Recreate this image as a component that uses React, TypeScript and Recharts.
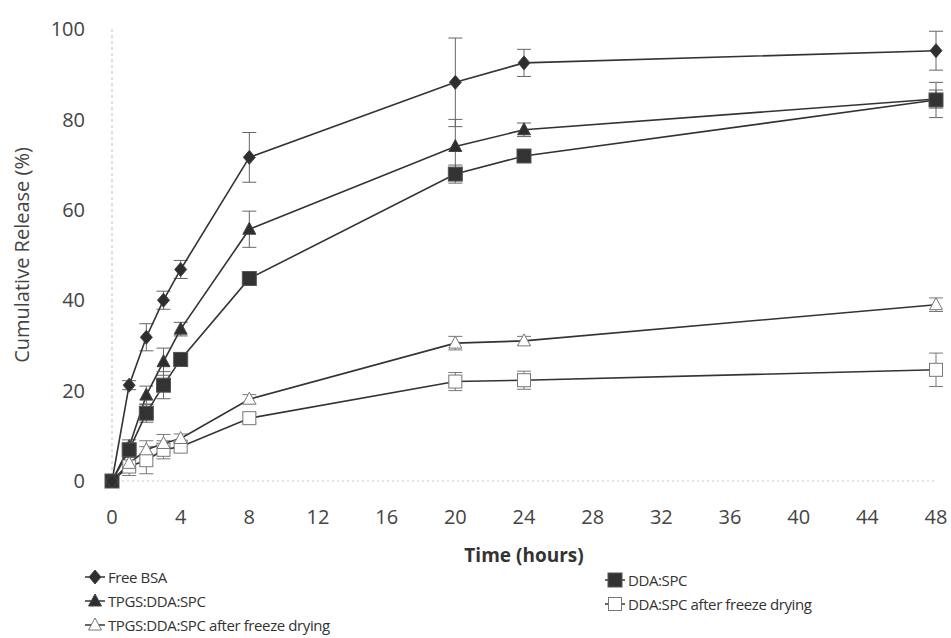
import { LineChart, Line, XAxis, YAxis, ErrorBar, Label } from 'recharts';

const hours = [0, 1, 2, 3, 4, 8, 20, 24, 48];
const freeBSA = [0, 21.2, 31.8, 40.0, 46.8, 71.6, 88.2, 92.5, 95.2];
const freeBSAErr = [0, 1, 3, 2, 2, 5.5, 9.8, 3, 4.3];
const tpgs = [0, 7.6, 19.0, 26.4, 33.6, 55.7, 74.0, 77.7, 84.5];
const tpgsErr = [0, 1.5, 2, 3, 1.5, 4, 6, 1.5, 2];
const ddaSpc = [0, 6.9, 15.0, 21.2, 26.9, 44.8, 67.9, 71.9, 84.3];
const ddaSpcErr = [0, 1.5, 2, 3, 1.5, 1, 2, 1, 3.9];
const tpgsFd = [0, 3.9, 6.9, 8.3, 9.4, 18.1, 30.5, 31.0, 39.0];
const tpgsFdErr = [0, 1.5, 2, 2, 1, 1, 1.5, 1, 1.5];
const ddaSpcFd = [0, 3.2, 4.6, 6.9, 7.6, 13.9, 22.0, 22.3, 24.6];
const ddaSpcFdErr = [0, 2, 3, 2, 1, 1, 2, 2, 3.7];

const xTicks = [0, 4, 8, 12, 16, 20, 24, 28, 32, 36, 40, 44, 48];
const yTicks = [0, 20, 40, 60, 80, 100];

const data = hours.map((h, i) => ({
  h,
  bsa: freeBSA[i], bsaErr: freeBSAErr[i],
  tpgs: tpgs[i], tpgsErr: tpgsErr[i],
  dda: ddaSpc[i], ddaErr: ddaSpcErr[i],
  tpgsFd: tpgsFd[i], tpgsFdErr: tpgsFdErr[i],
  ddaFd: ddaSpcFd[i], ddaFdErr: ddaSpcFdErr[i],
}));

const LINE = '#333';
const FONT = '"Open Sans", "Liberation Sans", sans-serif';

type Shape = 'diamond' | 'triangle' | 'square' | 'openTriangle' | 'openSquare';

const marker = (shape: Shape, cx: number, cy: number, key?: string | number) => {
  switch (shape) {
    case 'diamond':
      return <path key={key} d={`M${cx},${cy - 7}L${cx + 6},${cy}L${cx},${cy + 7}L${cx - 6},${cy}Z`} fill="#2e2e2e" stroke="#444" />;
    case 'triangle':
      return <path key={key} d={`M${cx},${cy - 7}L${cx + 6.5},${cy + 5}L${cx - 6.5},${cy + 5}Z`} fill="#2e2e2e" stroke="#444" />;
    case 'square':
      return <rect key={key} x={cx - 7} y={cy - 7} width={14} height={14} fill="#333" stroke="#555" />;
    case 'openTriangle':
      return <path key={key} d={`M${cx},${cy - 7}L${cx + 6.5},${cy + 5}L${cx - 6.5},${cy + 5}Z`} fill="#fff" stroke="#777" />;
    case 'openSquare':
      return <rect key={key} x={cx - 6.5} y={cy - 6.5} width={13} height={13} fill="#fff" stroke="#777" />;
  }
};

const dotOf = (shape: Shape) => (props: any) => {
  const { cx, cy, index } = props;
  if (cx == null || cy == null) return <g key={index} />;
  return marker(shape, cx, cy, index);
};

const legendLeft: { name: string; shape: Shape }[] = [
  { name: 'Free BSA', shape: 'diamond' },
  { name: 'TPGS:DDA:SPC', shape: 'triangle' },
  { name: 'TPGS:DDA:SPC after freeze drying', shape: 'openTriangle' },
];
const legendRight: { name: string; shape: Shape }[] = [
  { name: 'DDA:SPC', shape: 'square' },
  { name: 'DDA:SPC after freeze drying', shape: 'openSquare' },
];

const LegendItem = ({ name, shape }: { name: string; shape: Shape }) => (
  <div style={{ display: 'flex', alignItems: 'center', height: 24 }}>
    <svg width={22} height={18} style={{ marginRight: 2 }}>
      <line x1={1} y1={9} x2={21} y2={9} stroke={LINE} strokeWidth={1.5} />
      {marker(shape, 11, 9)}
    </svg>
    <span style={{ fontFamily: FONT, fontSize: 15, color: '#333', letterSpacing: -0.4 }}>{name}</span>
  </div>
);

const App = () => {
  return (
    <div style={{ position: 'absolute', left: 0, top: 0, width: 951, height: 638, background: '#fff' }}>
      <LineChart width={951} height={638} data={data} margin={{ top: 29, right: 15, left: 0, bottom: 127 }}>
        <XAxis
          dataKey="h"
          type="number"
          domain={[0, 48]}
          ticks={xTicks}
          height={30}
          tickLine={false}
          tickSize={0}
          tickMargin={29}
          axisLine={{ stroke: '#c8c8c8', strokeDasharray: '2 3' }}
          tick={{ fontFamily: FONT, fontSize: 20, fill: '#444' }}
        >
          <Label value="Time (hours)" position="bottom" offset={38} style={{ fontFamily: FONT, fontSize: 19, fontWeight: 700, fill: '#333' }} />
        </XAxis>
        <YAxis
          type="number"
          domain={[0, 100]}
          ticks={yTicks}
          width={112}
          tickLine={false}
          tickSize={0}
          tickMargin={27}
          axisLine={{ stroke: '#c0c0c0', strokeDasharray: '3 3' }}
          tick={{ fontFamily: FONT, fontSize: 20, fill: '#444' }}
        >
          <Label value="Cumulative Release (%)" angle={-90} position="insideLeft" offset={22} style={{ textAnchor: 'middle', fontFamily: FONT, fontSize: 20, fill: '#444' }} />
        </YAxis>
        <Line dataKey="ddaFd" stroke={LINE} strokeWidth={1.6} dot={dotOf('openSquare')} isAnimationActive={false}>
          <ErrorBar dataKey="ddaFdErr" width={7} stroke="#777" strokeWidth={1} direction="y" />
        </Line>
        <Line dataKey="tpgsFd" stroke={LINE} strokeWidth={1.6} dot={dotOf('openTriangle')} isAnimationActive={false}>
          <ErrorBar dataKey="tpgsFdErr" width={7} stroke="#777" strokeWidth={1} direction="y" />
        </Line>
        <Line dataKey="tpgs" stroke={LINE} strokeWidth={1.6} dot={dotOf('triangle')} isAnimationActive={false}>
          <ErrorBar dataKey="tpgsErr" width={7} stroke="#666" strokeWidth={1} direction="y" />
        </Line>
        <Line dataKey="dda" stroke={LINE} strokeWidth={1.6} dot={dotOf('square')} isAnimationActive={false}>
          <ErrorBar dataKey="ddaErr" width={7} stroke="#666" strokeWidth={1} direction="y" />
        </Line>
        <Line dataKey="bsa" stroke={LINE} strokeWidth={1.6} dot={dotOf('diamond')} isAnimationActive={false}>
          <ErrorBar dataKey="bsaErr" width={7} stroke="#666" strokeWidth={1} direction="y" />
        </Line>
      </LineChart>
      <div style={{ position: 'absolute', left: 84, top: 565 }}>
        {legendLeft.map(l => <LegendItem key={l.name} {...l} />)}
      </div>
      <div style={{ position: 'absolute', left: 604, top: 568 }}>
        {legendRight.map(l => <LegendItem key={l.name} {...l} />)}
      </div>
    </div>
  );
};

export default App;
